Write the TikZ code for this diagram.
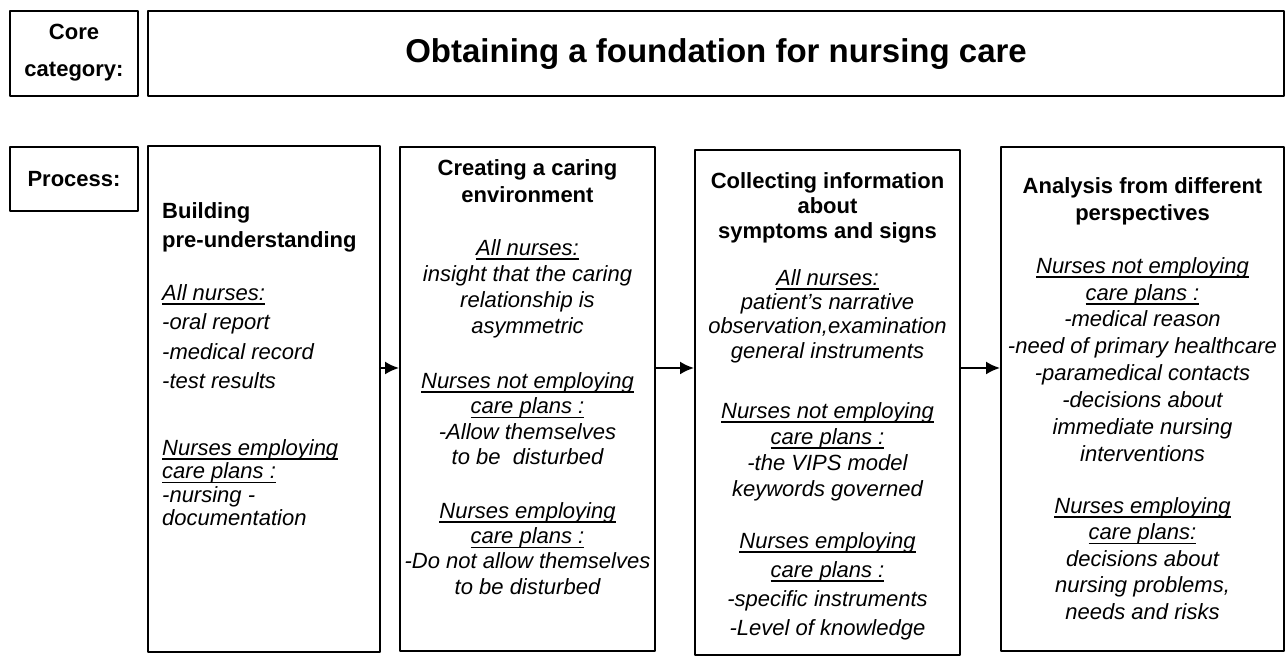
\documentclass[tikz,border=0pt]{standalone}
\usepackage{fontspec}
\setmainfont{Liberation Sans}
\usetikzlibrary{arrows.meta}
\newsavebox{\undlbox}
\newcommand{\undl}[1]{\leavevmode\sbox{\undlbox}{#1}\rlap{\rule[-4.5bp]{\wd\undlbox}{1.4bp}}\usebox{\undlbox}}

\begin{document}
\begin{tikzpicture}[>={Latex[length=14bp,width=13bp]},line join=bevel,
  frame/.style={draw,line width=2bp,inner sep=0pt},
  head/.style={inner sep=0pt,align=center,font=\bfseries\fontsize{22bp}{#1}\selectfont},
  head/.default=27bp,
  body/.style={inner sep=0pt,align=center,font=\itshape\fontsize{22bp}{#1}\selectfont},
  body/.default=26bp]
\useasboundingbox (0bp,0bp) rectangle (1285bp,656bp);
%%
\node (node_0) at (74bp,602.5bp) [frame,minimum width=128bp,minimum height=85bp] {};
  \node (node_1) at (716bp,602.5bp) [frame,minimum width=1136bp,minimum height=85bp] {};
  \node (node_2) at (74bp,477bp) [frame,minimum width=128bp,minimum height=64bp] {};
  \node (node_3) at (264bp,257bp) [frame,minimum width=232bp,minimum height=506bp] {};
  \node (node_4) at (527.5bp,257bp) [frame,minimum width=255bp,minimum height=504bp] {};
  \node (node_5) at (827.5bp,253.5bp) [frame,minimum width=265bp,minimum height=505bp] {};
  \node (node_6) at (1142.5bp,257bp) [frame,minimum width=283bp,minimum height=504bp] {};
%
\node (core_txt) at (74bp,632bp) [head=37bp,anchor=north] {Core\\category:};
  \node (title_txt) at (716bp,593bp) [anchor=base,inner sep=0pt,font=\bfseries\fontsize{33bp}{40bp}\selectfont] {Obtaining a foundation for nursing care};
  \node (process_txt) at (74bp,469bp) [head,anchor=base] {Process:};
%
\node (step_1_head) at (162bp,454bp) [head=29bp,align=left,anchor=north west] {Building\\pre-understanding};
  \node (step_1_all) at (162bp,372bp) [body=29.5bp,align=left,anchor=north west] {\undl{All nurses:}\\-oral report\\-medical record\\-test results};
  \node (step_1_emp) at (162bp,217bp) [body=23.5bp,align=left,anchor=north west] {\undl{Nurses employing}\\\undl{care plans :}\\-nursing -\\documentation};
%
\node (step_2_head) at (527.5bp,497bp) [head,anchor=north] {Creating a caring\\environment};
  \node (step_2_all) at (527.5bp,417bp) [body,anchor=north] {\undl{All nurses:}\\insight that the caring\\relationship is\\asymmetric};
  \node (step_2_not) at (527.5bp,284bp) [body=25.5bp,anchor=north] {\undl{Nurses not employing}\\\undl{care plans :}\\-Allow themselves\\to be\ \ disturbed};
  \node (step_2_emp) at (527.5bp,154bp) [body=25.3bp,anchor=north] {\undl{Nurses employing}\\\undl{care plans :}\\-Do not allow themselves\\to be disturbed};
%
\node (step_3_head) at (827.5bp,484bp) [head=25bp,anchor=north] {Collecting information\\about\\symptoms and signs};
  \node (step_3_all) at (827.5bp,387bp) [body=24.3bp,anchor=north] {\undl{All nurses:}\\patient's narrative\\observation,examination\\general instruments};
  \node (step_3_not) at (827.5bp,254bp) [body,anchor=north] {\undl{Nurses not employing}\\\undl{care plans :}\\-the VIPS model\\keywords governed};
  \node (step_3_emp) at (827.5bp,124bp) [body=29bp,anchor=north] {\undl{Nurses employing}\\\undl{care plans :}\\-specific instruments\\-Level of knowledge};
%
\node (step_4_head) at (1142.5bp,479bp) [head,anchor=north] {Analysis from different\\perspectives};
  \node (step_4_not) at (1142.5bp,399bp) [body=26.9bp,anchor=north] {\undl{Nurses not employing}\\\undl{care plans :}\\-medical reason\\-need of primary healthcare\\-paramedical contacts\\-decisions about\\immediate nursing\\interventions};
  \node (step_4_emp) at (1142.5bp,159bp) [body=26.5bp,anchor=north] {\undl{Nurses employing}\\\undl{care plans:}\\decisions about\\nursing problems,\\needs and risks};
%
\coordinate (flow) at (0bp,288bp);
  \draw [black,line width=2bp,->] (node_3.east |- flow) -- (node_4.west |- flow);
  \draw [black,line width=2bp,->] (node_4.east |- flow) -- (node_5.west |- flow);
  \draw [black,line width=2bp,->] (node_5.east |- flow) -- (node_6.west |- flow);
%
\end{tikzpicture}
\end{document}
